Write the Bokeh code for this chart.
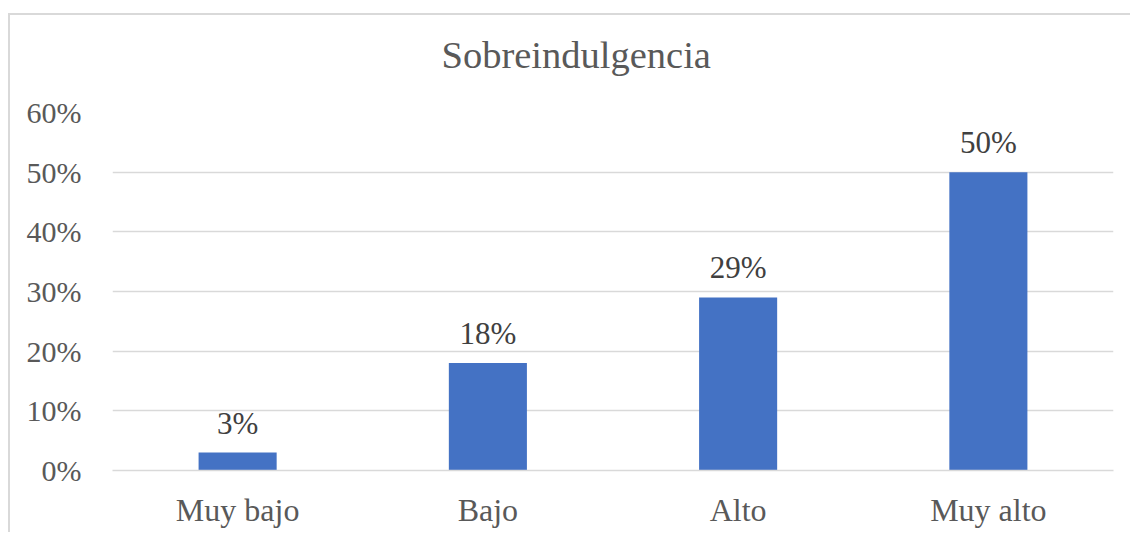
from bokeh.plotting import figure
from bokeh.models import ColumnDataSource, Range1d, FactorRange, FixedTicker, NumeralTickFormatter, LabelSet, Title
from bokeh.embed import file_html
from bokeh.resources import INLINE

categories = ["Muy bajo", "Bajo", "Alto", "Muy alto"]
values = [0.03, 0.18, 0.29, 0.50]
labels = [f"{round(v*100)}%" for v in values]
y_ticks = [0, 0.1, 0.2, 0.3, 0.4, 0.5, 0.6]
title_text = "Sobreindulgencia"

FONT = "'Liberation Serif', 'Times New Roman', serif"

src = ColumnDataSource(dict(cat=categories, val=values, lab=labels))

p = figure(x_range=FactorRange(*categories), y_range=Range1d(0, 0.6),
           width=1122, height=519, output_backend="svg", toolbar_location=None,
           title=None,
           min_border_left=102, min_border_right=19, min_border_top=97, min_border_bottom=64,
           styles={"margin-left": "8px", "margin-top": "13px",
                   "border-top": "2px solid #d9d9d9", "border-left": "2px solid #d9d9d9"})

p.vbar(x="cat", top="val", width=0.312, source=src, color="#4472C4", line_color=None)

p.add_layout(LabelSet(x="cat", y="val", text="lab", source=src, text_align="center",
                      text_baseline="alphabetic", y_offset=19, text_font=FONT,
                      text_font_size="31px", text_color="#404040"))

# spacer between frame and title (nearest to the frame)
p.add_layout(Title(text=" ", text_font_size="1px", standoff=33), "above")
# chart title
p.add_layout(Title(text=title_text, text_font=FONT, text_font_size="38.5px",
                   text_font_style="normal", text_color="#595959", align="left",
                   vertical_align="middle", offset=329, standoff=0), "above")

p.outline_line_color = None
p.xgrid.grid_line_color = None
p.ygrid.grid_line_color = "#d9d9d9"
p.ygrid.grid_line_width = 1.5

p.yaxis.ticker = FixedTicker(ticks=y_ticks)
p.yaxis.formatter = NumeralTickFormatter(format="0%")
for ax in (p.xaxis, p.yaxis):
    ax.major_tick_line_color = None
    ax.minor_tick_line_color = None
    ax.major_label_text_font = FONT
    ax.major_label_text_color = "#595959"
p.yaxis.major_label_text_font_size = "30px"
p.xaxis.major_label_text_font_size = "32px"
p.yaxis.axis_line_color = None
p.xaxis.axis_line_color = "#d9d9d9"
p.xaxis.axis_line_width = 1.5
p.yaxis.major_label_standoff = 25
p.xaxis.major_label_standoff = 15

open("out.html", "w").write(file_html(p, INLINE))
